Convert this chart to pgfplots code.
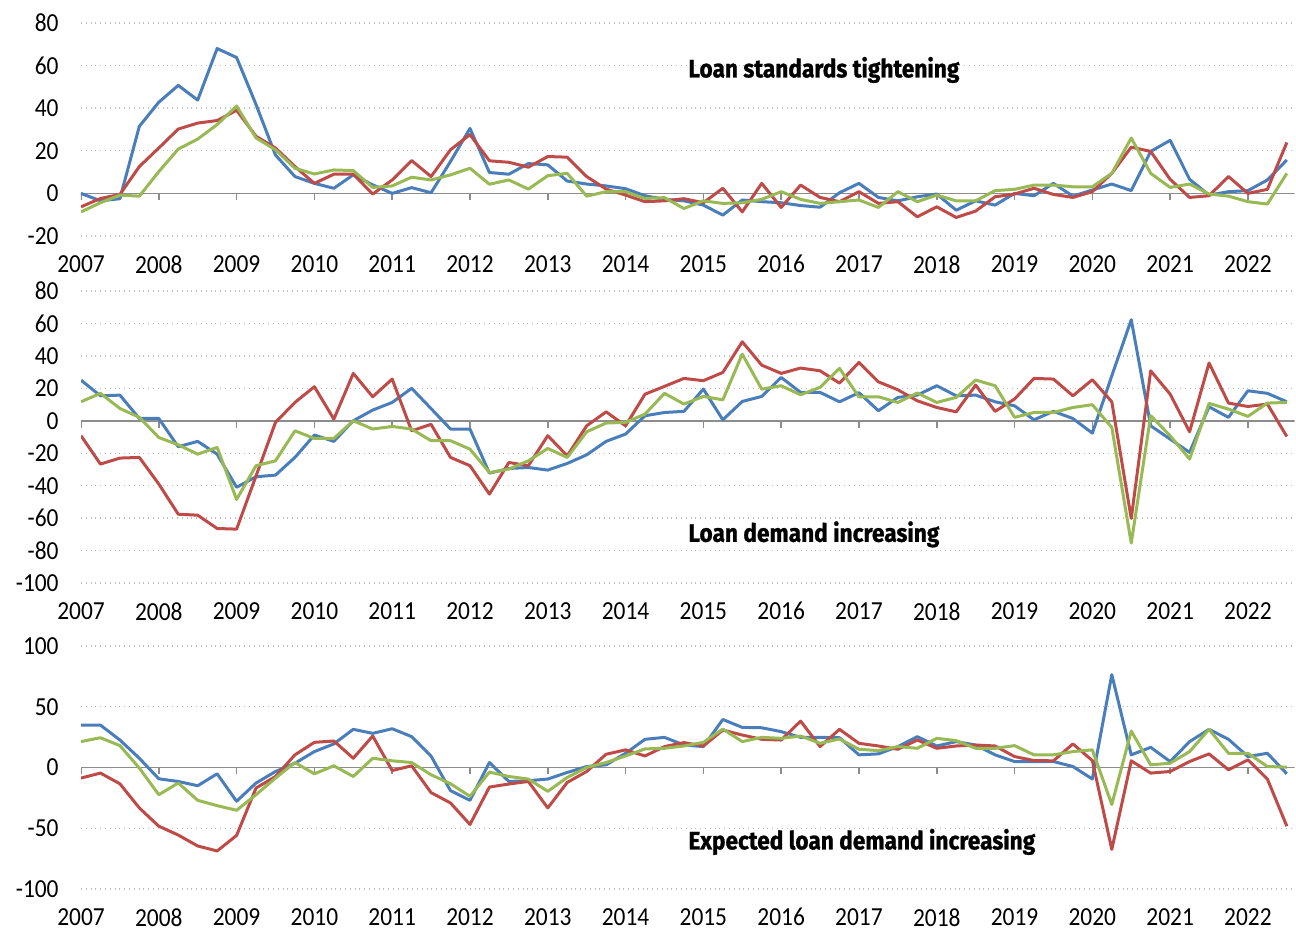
\documentclass[border=0pt]{standalone}
\usepackage{fontspec}
\setmainfont{Carlito}[FakeStretch=0.9]
\newfontfamily\titlefont{Fira Sans}[FakeStretch=0.9,FakeBold=1]
\usepackage{pgfplots}
\pgfplotsset{compat=1.18}
\usepackage{pgfplotstable}

\definecolor{sblue}{HTML}{4A7EBB}
\definecolor{sred}{HTML}{BE4B48}
\definecolor{sgreen}{HTML}{98B954}
\definecolor{zline}{HTML}{8C8C8C}
\definecolor{gridc}{HTML}{BFBFBF}

% x = quarter index (0 = 2007Q1)
\pgfplotstableread{
x b r g
0 0 -6.3 -8.7
1 -3.5 -2.4 -4.4
2 -2.5 -0.5 -0.8
3 31.5 12.6 -1.3
4 42.8 21.3 10.2
5 50.7 30.2 20.8
6 43.8 33 25.5
7 68 34.2 32.3
8 63.8 39 41
9 41.7 26.8 26
10 18 21.3 20.5
11 7.9 12.6 11.8
12 4.7 4.7 9.1
13 2.4 9 11
14 8.7 9 10.7
15 4 -0.3 2.8
16 0 6.3 3.5
17 2.7 15.4 7.6
18 0.3 7.9 6.3
19 15 20.5 8.7
20 30.5 27.6 11.8
21 9.8 15.3 4.3
22 9 14.6 6.3
23 14 12.3 2
24 13.4 17.3 8.3
25 5.8 17 9.4
26 4.4 7.9 -1.3
27 3.5 2 0.8
28 2.2 -0.8 0.8
29 -1.1 -3.9 -2.4
30 -2.8 -3.5 -2
31 -3.5 -2.5 -7.1
32 -5.5 -4.4 -3.5
33 -10.2 2.4 -4.7
34 -3.1 -8.7 -4.4
35 -3.9 4.7 -2.8
36 -4.4 -6.6 0.8
37 -5.7 3.9 -2.8
38 -6.5 -1.9 -4.7
39 0.3 -3.9 -3.9
40 4.7 0.8 -3.1
41 -1.9 -4.7 -6.6
42 -3.5 -3.9 0.8
43 -1.6 -11 -3.9
44 -0.3 -6.3 -0.8
45 -7.9 -11.3 -3.5
46 -3.5 -8.3 -3.5
47 -5.5 -1.6 1.3
48 0 -0.3 1.9
49 -1.1 2.4 3.9
50 4.7 -0.5 3.9
51 -1.3 -1.9 3.1
52 1.6 0.8 3.1
53 4.4 9.4 9.4
54 1.3 21.7 26
55 19.7 19.7 9.4
56 24.9 6.6 2.8
57 6.6 -1.9 4.4
58 -0.8 -1.1 -0.3
59 0.8 7.9 -1.3
60 1.3 0 -3.9
61 6.3 1.9 -5
62 15.7 23.9 9.4
}\tA

\pgfplotstableread{
x b r g
0 25 -9.2 11.7
1 15.4 -26.7 16.9
2 15.8 -23 7.6
3 1.4 -22.6 2.1
4 1.4 -39 -10.3
5 -16 -57.6 -14.8
6 -12.7 -58.2 -20.6
7 -20.6 -66.4 -16.4
8 -41 -66.8 -48.5
9 -34.5 -34 -27.7
10 -33.5 -1 -24.7
11 -22.6 11.3 -6.2
12 -8.8 21 -10.9
13 -12.7 1 -10.9
14 0 29.2 0
15 6.6 14.8 -5.1
16 11.3 25.7 -3.5
17 20 -6.2 -5.1
18 7.5 -2.2 -12.3
19 -5.1 -22.6 -12.3
20 -5.1 -27.7 -17.5
21 -32.3 -45.2 -31.9
22 -29.4 -25.7 -29.8
23 -28.8 -27.7 -24.7
24 -30.4 -9.2 -17.1
25 -26.3 -21.6 -22.6
26 -21 -3.1 -6.8
27 -12.7 5.5 -1.4
28 -8.2 -3.1 -1
29 3.1 16.4 4.1
30 5.1 21.2 16.9
31 5.8 26.1 10.3
32 19.5 24.7 15
33 0.6 29.8 12.9
34 11.9 48.7 41.1
35 15 34.3 19.5
36 26.7 29.2 21.6
37 17.5 32.5 16
38 17.5 30.8 20.6
39 11.7 23.2 32.3
40 17.3 36 14.7
41 6.2 24 14.8
42 14.4 19.1 11.3
43 15.8 12.3 17.1
44 21.6 8.2 11.3
45 15.4 5.5 14.4
46 15.8 22 25.1
47 11.7 5.8 21.6
48 9.2 13.4 2.1
49 0.6 26.1 5.1
50 5.8 25.7 5.1
51 1.4 15.4 8.2
52 -7.6 25.3 9.9
53 27.7 11.7 -4.1
54 62.3 -60.2 -75.4
55 -3.1 30.8 3.1
56 -11.3 16.4 -9.2
57 -19.5 -6.8 -23.6
58 8.6 35.6 10.7
59 2.1 10.9 7.2
60 18.5 8.8 2.7
61 16.9 10.3 10.9
62 11.7 -9.7 11.3
}\tB

\pgfplotstableread{
x b r g
0 34.9 -8.7 21.3
1 34.9 -4.6 24.5
2 22.6 -13.4 18
3 7.6 -33.3 -0.5
4 -9.3 -48.3 -22.4
5 -11.5 -55.6 -12.8
6 -15 -64.6 -27
7 -5.2 -68.7 -31.4
8 -27.8 -55.9 -35.2
9 -12.8 -16.9 -22.4
10 -3.3 -7.4 -8.7
11 3.5 10.4 4.1
12 13.1 20.7 -5.2
13 19.4 21.8 1.4
14 31.4 7.6 -7.4
15 28.1 25.9 7.6
16 31.9 -2.5 5.5
17 25.4 1.4 4.1
18 9.3 -20.7 -6
19 -19.1 -29.2 -13.4
20 -27 -46.9 -23.7
21 4.1 -16.1 -3.8
22 -11.5 -13.6 -7.4
23 -10.9 -11.5 -9.5
24 -9.5 -33.3 -19.6
25 -4.1 -12.3 -8.2
26 0.8 -3.3 0
27 2.2 10.9 4.1
28 11.7 14.5 9.5
29 23.2 9.5 15.3
30 24.8 17.2 15.8
31 18.5 20.5 17.7
32 17.2 17.7 20.7
33 39.5 30.8 31.6
34 33 26.7 21.3
35 32.7 23.2 24.8
36 29.5 22.6 24
37 24.8 38.2 25.9
38 24.8 17.2 19.9
39 24.5 31.4 23.5
40 10.4 19.9 15
41 11.2 17.7 13.9
42 17.2 15 17.2
43 25.4 22.6 15.8
44 17.7 15.8 24
45 21.3 17.7 22.1
46 18.5 18.5 15.8
47 10.4 17.7 15.8
48 4.9 9 18
49 4.9 5.7 10.4
50 4.9 5.5 10.4
51 0.8 19.4 13.1
52 -9.5 5.7 14.5
53 76.4 -67.4 -30.5
54 10.4 5.5 30
55 16.6 -4.6 2.2
56 4.9 -3.3 3.5
57 21.3 4.9 13.1
58 31.4 11.2 31.4
59 23.2 -1.9 11.7
60 9 6.3 11.7
61 11.7 -9.5 0.8
62 -5.2 -48.3 0.3
}\tC

\pgfplotsset{
  panel/.style={
    scale only axis, width=606.8pt, xmin=0, xmax=62.4,
    anchor=south west,
    axis line style={draw=none}, tick style={draw=none},
    xtick={0,4,...,60},
    xticklabels={2007,2008,2009,2010,2011,2012,2013,2014,2015,2016,2017,2018,2019,2020,2021,2022},
    ymajorgrids, major grid style={gridc, dotted, line width=0.7pt},
    tick label style={font=\fontsize{13}{13}\selectfont},
    xticklabel style={inner sep=0pt, anchor=north, yshift=-9.5pt},
    yticklabel style={inner sep=0pt, anchor=east, xshift=-11pt},
    every axis plot/.append style={line width=1.5pt, mark=none, line join=round},
  },
}

\begin{document}
\begin{tikzpicture}
\useasboundingbox (0,0) rectangle (648pt,465.5pt);

\begin{axis}[panel, at={(40.5pt,347.5pt)}, height=106.5pt,
  ymin=-20, ymax=80, ytick={-20,0,20,40,60,80}, yticklabels={-20,0,20,40,60,80}]
  \draw[zline, line width=0.8pt] (axis cs:0,0) -- (axis cs:62.4,0);
  \pgfplotsinvokeforeach{0,4,...,60}{\draw[zline, line width=0.8pt] (axis cs:#1,0) -- ([yshift=-3.5pt]axis cs:#1,0);}
  \addplot[sblue] table[x=x,y=b] {\tA};
  \addplot[sred] table[x=x,y=r] {\tA};
  \addplot[sgreen] table[x=x,y=g] {\tA};
\end{axis}

\begin{axis}[panel, at={(40.5pt,174pt)}, height=146pt,
  ymin=-100, ymax=80, ytick={-100,-80,-60,-40,-20,0,20,40,60,80},
  yticklabels={-100,-80,-60,-40,-20,0,20,40,60,80}]
  \draw[zline, line width=0.8pt] (axis cs:0,0) -- (axis cs:62.4,0);
  \pgfplotsinvokeforeach{0,4,...,60}{\draw[zline, line width=0.8pt] (axis cs:#1,0) -- ([yshift=-3.5pt]axis cs:#1,0);}
  \addplot[sblue] table[x=x,y=b] {\tB};
  \addplot[sred] table[x=x,y=r] {\tB};
  \addplot[sgreen] table[x=x,y=g] {\tB};
\end{axis}

\begin{axis}[panel, at={(40.5pt,21pt)}, height=121.5pt,
  ymin=-100, ymax=100, ytick={-100,-50,0,50,100}, yticklabels={-100,-50,0,50,100}]
  \draw[zline, line width=0.8pt] (axis cs:0,0) -- (axis cs:62.4,0);
  \pgfplotsinvokeforeach{0,4,...,60}{\draw[zline, line width=0.8pt] (axis cs:#1,0) -- ([yshift=-3.5pt]axis cs:#1,0);}
  \addplot[sblue] table[x=x,y=b] {\tC};
  \addplot[sred] table[x=x,y=r] {\tC};
  \addplot[sgreen] table[x=x,y=g] {\tC};
\end{axis}

\node[anchor=base west, inner sep=0pt, font=\fontsize{12.6}{12.6}\titlefont\bfseries] at (344pt,426.8pt) {Loan standards tightening};
\node[anchor=base west, inner sep=0pt, font=\fontsize{12.6}{12.6}\titlefont\bfseries] at (344pt,194.6pt) {Loan demand increasing};
\node[anchor=base west, inner sep=0pt, font=\fontsize{12.6}{12.6}\titlefont\bfseries] at (344pt,40.8pt) {Expected loan demand increasing};
\end{tikzpicture}
\end{document}
